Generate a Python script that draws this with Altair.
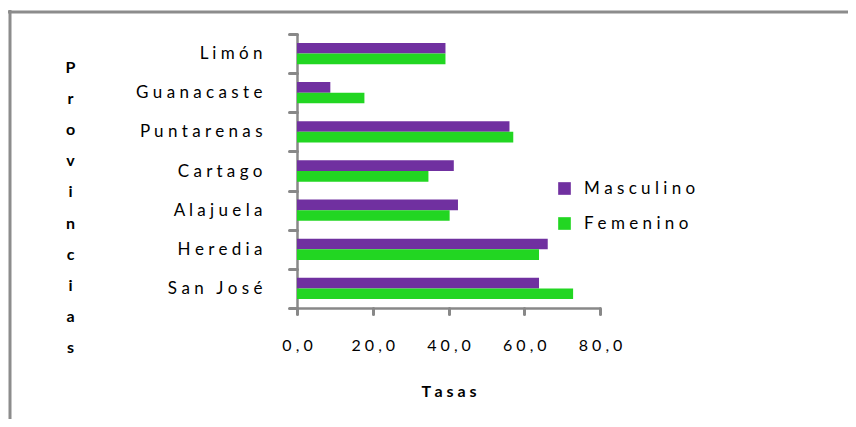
import altair as alt
import pandas as pd

provincias = ["Limón", "Guanacaste", "Puntarenas", "Cartago", "Alajuela", "Heredia", "San José"]
masculino = [39.2, 8.8, 56.1, 41.4, 42.5, 66.2, 63.9]
femenino = [39.2, 17.8, 57.1, 34.7, 40.3, 63.9, 72.9]
sexos = ["Masculino", "Femenino"]
colores = ["#7030A0", "#22D622"]
x_ticks = [0, 20, 40, 60, 80]
eje_y_titulo = list("Provincias")
eje_x_titulo = "Tasas"

rows = []
for p, m, f in zip(provincias, masculino, femenino):
    rows.append({"Provincia": p, "Sexo": "Masculino", "Tasa": m})
    rows.append({"Provincia": p, "Sexo": "Femenino", "Tasa": f})
df = pd.DataFrame(rows)

NB = "\u00a0"
spaced = "join(split(datum.label, ''), '" + NB + "')"
num_spaced = "join(split(replace(format(datum.value, '.1f'), '.', ','), ''), '" + NB + "')"

FONT = "Lato"
AXIS_GRAY = "#888888"

bars = alt.Chart(df).mark_bar().encode(
    x=alt.X("Tasa:Q",
            scale=alt.Scale(domain=[0, 80]),
            axis=alt.Axis(values=x_ticks, labelExpr=num_spaced, tickSize=6,
                          labelFlush=False, labelOverlap=False,
                          labelPadding=23, labelFontSize=16, grid=False,
                          titleY=83, titleBaseline="middle", titleFontSize=16,
                          titleFontWeight="bold"),
            title=NB.join(eje_x_titulo)),
    y=alt.Y("Provincia:N", sort=provincias,
            scale=alt.Scale(paddingInner=0, paddingOuter=0),
            axis=alt.Axis(tickBand="extent", tickSize=8, labelPadding=27,
                          labelExpr=spaced, labelFontSize=17, grid=False,
                          titleAngle=0, titleX=-227, titleY=25, titleAlign="center",
                          titleBaseline="top", titleLineHeight=31.2,
                          titleFontSize=16, titleFontWeight="bold"),
            title=eje_y_titulo),
    yOffset=alt.YOffset("Sexo:N", sort=sexos,
                        scale=alt.Scale(domain=sexos, paddingInner=0, paddingOuter=0.84)),
    color=alt.Color("Sexo:N",
                    scale=alt.Scale(domain=sexos, range=colores),
                    legend=alt.Legend(orient="none", legendX=259, legendY=146,
                                      symbolType="square", symbolSize=160,
                                      symbolStrokeWidth=0, labelFontSize=17,
                                      labelOffset=11, rowPadding=17, padding=0,
                                      labelExpr=spaced),
                    title=None),
)

one = pd.DataFrame({"a": [0]})
frame_top = alt.Chart(one).mark_rule(color="#8C8C8C", strokeWidth=3).encode(
    x=alt.value(-289), x2=alt.value(560), y=alt.value(-22))
frame_left = alt.Chart(one).mark_rule(color="#8C8C8C", strokeWidth=3).encode(
    x=alt.value(-287), y=alt.value(-24), y2=alt.value(400))

chart = alt.layer(bars, frame_top, frame_left).properties(
    width=303, height=274,
    autosize=alt.AutoSizeParams(type="none"),
    padding={"left": 289, "top": 26, "right": 248, "bottom": 111},
).configure_axis(
    domainColor=AXIS_GRAY, domainWidth=2.5, tickColor=AXIS_GRAY, tickWidth=3,
    tickCap="round", labelColor="#000000", titleColor="#000000",
    labelFont=FONT, titleFont=FONT,
).configure_legend(
    labelFont=FONT, labelColor="#000000",
).configure_view(strokeWidth=0)

chart.save("out.html", embed_options={"renderer": "svg", "actions": False})
